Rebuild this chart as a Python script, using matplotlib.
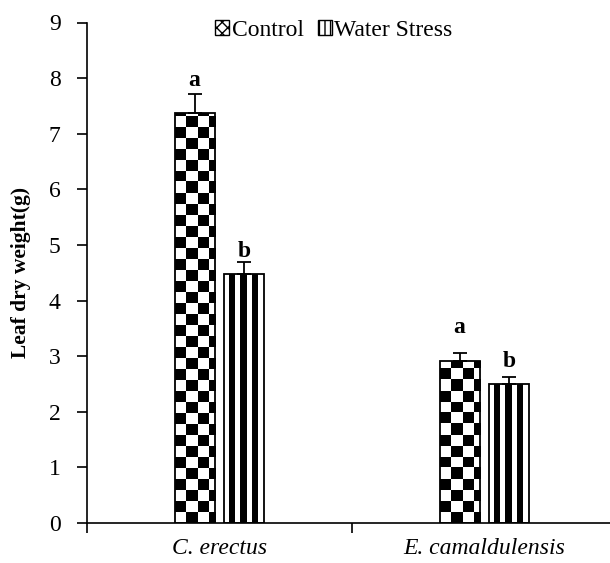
import numpy as np
import matplotlib
matplotlib.use('Agg')
import matplotlib.pyplot as plt
from matplotlib.patches import Patch

# --- Data
species = ['C. erectus', 'E. camaldulensis']
control = [7.37, 2.92]
control_err = [0.35, 0.14]
stress = [4.48, 2.50]
stress_err = [0.21, 0.12]
control_letters = ['a', 'a']
stress_letters = ['b', 'b']
control_letter_y = [7.86, 3.42]
stress_letter_y = [4.78, 2.80]

plt.rcParams['font.family'] = ['Liberation Serif', 'DejaVu Serif']
plt.rcParams['font.size'] = 17

fig = plt.figure(figsize=(6.10, 5.63), dpi=100)
# axes runs slightly past the right edge, like the original export
ax = fig.add_axes([87 / 610, 1 - 523 / 563, (617 - 87) / 610, (523 - 22.5) / 563])

x = np.arange(len(species))
w = 0.151
off = 0.094

bars_c = ax.bar(x - off, control, w, facecolor='none', edgecolor='black', linewidth=1.3, zorder=3)
bars_s = ax.bar(x + off, stress, w, facecolor='none', edgecolor='black', linewidth=1.3, zorder=3)


def fill_pattern(rect, kind):
    x0, wd, h = rect.get_x(), rect.get_width(), rect.get_height()
    xs = np.linspace(0, 1, 240)
    ys = np.linspace(0, h, int(h * 120) + 2)
    X, Y = np.meshgrid(xs, ys)
    if kind == 'checker':
        cx = np.floor(X * 3.6)
        cy = np.floor(Y / 0.198)
        img = (cx + cy) % 2
    else:
        # three vertical black stripes
        img = (((X - 0.12) % 0.28) < 0.15) & (X > 0.1) & (X < 0.86)
        img = img.astype(float)
    im = ax.imshow(img[::-1], extent=(x0, x0 + wd, 0, h), cmap='gray_r', vmin=0, vmax=1,
                   interpolation='nearest', aspect='auto', zorder=2)
    im.set_clip_path(rect)


for r in bars_c:
    fill_pattern(r, 'checker')
for r in bars_s:
    fill_pattern(r, 'stripe')

ax.errorbar(x - off, control, yerr=[np.zeros(2), control_err], fmt='none', ecolor='black',
            elinewidth=1.3, capsize=5, capthick=1.3, zorder=4)
ax.errorbar(x + off, stress, yerr=[np.zeros(2), stress_err], fmt='none', ecolor='black',
            elinewidth=1.3, capsize=5, capthick=1.3, zorder=4)

for i in range(len(species)):
    ax.text(x[i] - off, control_letter_y[i], control_letters[i], ha='center', va='baseline',
            fontweight='bold', fontsize=17)
    ax.text(x[i] + off, stress_letter_y[i], stress_letters[i], ha='center', va='baseline',
            fontweight='bold', fontsize=17)

ax.set_xlim(-0.5, 1.5)
ax.set_ylim(0, 9)
ax.set_yticks(range(10))
ax.set_xticks([-0.5, 0.5, 1.5])
ax.set_xticklabels(['', '', ''])
ax.set_xticks(x, minor=True)
ax.set_xticklabels(species, minor=True, style='italic')
ax.tick_params(axis='x', which='minor', length=0, pad=11)
ax.tick_params(axis='x', which='major', length=7, width=1.2, direction='out')
ax.tick_params(axis='y', length=7, width=1.2, direction='out', pad=12)

for s in ['top', 'right']:
    ax.spines[s].set_visible(False)
ax.spines['left'].set_linewidth(1.2)
ax.spines['bottom'].set_linewidth(1.2)

ax.set_ylabel('Leaf dry weight(g)', fontweight='bold', fontsize=15.5, labelpad=13)

handles = [Patch(facecolor='white', edgecolor='black', hatch='xxx', label='Control'),
           Patch(facecolor='white', edgecolor='black', hatch='|||', label='Water Stress')]
fig.legend(handles=handles, loc='center', bbox_to_anchor=(334 / 610, 1 - 30 / 563), ncol=2,
           frameon=False, handlelength=0.6, handleheight=0.6, handletextpad=0.1,
           columnspacing=0.6, fontsize=17)

fig.savefig('out.png', dpi=100)
